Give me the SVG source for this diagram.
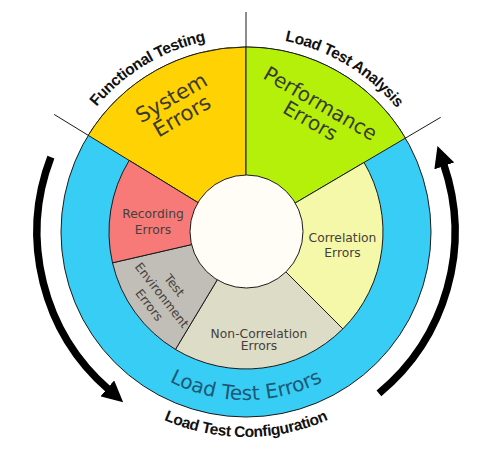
<svg xmlns="http://www.w3.org/2000/svg" width="500" height="463" viewBox="0 0 500 463">
<style>
  .seg { stroke: #1a1a1a; stroke-width: 1; }
  .div { stroke: #1a1a1a; stroke-width: 1; fill: none; }
  .lbl { font-family: "DejaVu Sans", "Noto Sans", sans-serif; fill: #3a3a30; text-anchor: middle; }
  .big { font-size: 20px; }
  .sm { font-size: 12.3px; fill: #45403c; }
  .outer { font-family: "Liberation Sans", Arial, sans-serif; font-weight: bold; font-size: 15.5px; letter-spacing: -0.4px; fill: #111; }
  .arrow { fill: none; stroke: #000; stroke-width: 7.5; }
</style>
<defs>
  <marker id="ah" markerUnits="userSpaceOnUse" markerWidth="21" markerHeight="21" viewBox="0 0 20 20" refX="2" refY="10" orient="auto">
    <path d="M0,0 L20,10 L0,20 z" fill="#000"/>
  </marker>
  <path id="pFunc" d="M 51.03 235.40 A 195 195 0 0 1 340.54 61.45"/>
  <path id="pAnal" d="M 151.46 61.45 A 195 195 0 0 1 440.97 235.40"/>
  <path id="pConf" d="M 68.46 334.5 A 205 205 0 0 0 423.54 334.5"/>
  <path id="pLTE" d="M 100.51 316 A 168 168 0 0 0 391.49 316"/>
</defs>
<rect width="500" height="463" fill="#fff"/>

<g id="load-test-errors">
  <circle class="seg" cx="246" cy="232" r="185" fill="#37cdf4"/>
  <text class="lbl" font-size="20" style="fill:#1d5873"><textPath href="#pLTE" startOffset="50%">Load Test Errors</textPath></text>
</g>

<g id="system-errors">
  <path class="seg" d="M 246 232 L 88.26 135.34 A 185 185 0 0 1 246 47 Z" fill="#ffd204"/>
  <g transform="translate(175 104) rotate(-30)">
    <text class="lbl" font-size="21" x="0" y="0">System</text>
    <text class="lbl" font-size="21" x="0" y="21">Errors</text>
  </g>
</g>

<g id="performance-errors">
  <path class="seg" d="M 246 232 L 246 47 A 185 185 0 0 1 405.40 138.11 Z" fill="#b4f00a"/>
  <g transform="translate(319 106) rotate(30)">
    <text class="lbl big" x="0" y="4">Performance</text>
    <text class="lbl big" x="0" y="24">Errors</text>
  </g>
</g>

<g id="correlation-errors">
  <path class="seg" d="M 246 232 L 364.04 162.47 A 137 137 0 0 1 342.87 328.87 Z" fill="#f4f8a8"/>
  <text class="lbl sm" x="342.5" y="242">Correlation</text>
  <text class="lbl sm" x="342.5" y="256.5">Errors</text>
</g>

<g id="non-correlation-errors">
  <path class="seg" d="M 246 232 L 342.87 328.87 A 137 137 0 0 1 175.44 349.43 Z" fill="#dddcc6"/>
  <text class="lbl sm" x="259" y="337.5">Non-Correlation</text>
  <text class="lbl sm" x="259" y="350">Errors</text>
</g>

<g id="test-environment-errors">
  <path class="seg" d="M 246 232 L 175.44 349.43 A 137 137 0 0 1 112.51 262.82 Z" fill="#c1beb7"/>
  <g transform="translate(162 295) rotate(52)">
    <text class="lbl sm" x="0" y="-11.5">Test</text>
    <text class="lbl sm" x="0" y="4.5">Environment</text>
    <text class="lbl sm" x="0" y="20.5">Errors</text>
  </g>
</g>

<g id="recording-errors">
  <path class="seg" d="M 246 232 L 112.51 262.82 A 137 137 0 0 1 129.19 160.42 Z" fill="#f77a78"/>
  <text class="lbl sm" x="153" y="218">Recording</text>
  <text class="lbl sm" x="153" y="233.5">Errors</text>
</g>

<g id="center">
  <circle class="seg" cx="246.5" cy="231.5" r="56.5" fill="#fffdf6"/>
</g>

<g id="dividers">
  <line class="div" x1="246" y1="12" x2="246" y2="47"/>
  <line class="div" x1="54.16" y1="114.44" x2="88.26" y2="135.34"/>
  <line class="div" x1="440.73" y1="117.30" x2="405.40" y2="138.11"/>
</g>

<g id="functional-testing">
  <text class="outer"><textPath href="#pFunc" startOffset="50%" text-anchor="middle">Functional Testing</textPath></text>
</g>
<g id="load-test-analysis">
  <text class="outer"><textPath href="#pAnal" startOffset="50%" text-anchor="middle">Load Test Analysis</textPath></text>
</g>
<g id="load-test-configuration">
  <text class="outer"><textPath href="#pConf" startOffset="50%" text-anchor="middle">Load Test Configuration</textPath></text>
</g>

<g id="connectors">
  <path class="arrow" d="M 50.88 157.10 A 209 209 0 0 0 108.88 389.73" marker-end="url(#ah)"/>
  <path class="arrow" d="M 378.94 393.27 A 209 209 0 0 0 443.61 163.96" marker-end="url(#ah)"/>
</g>
</svg>
